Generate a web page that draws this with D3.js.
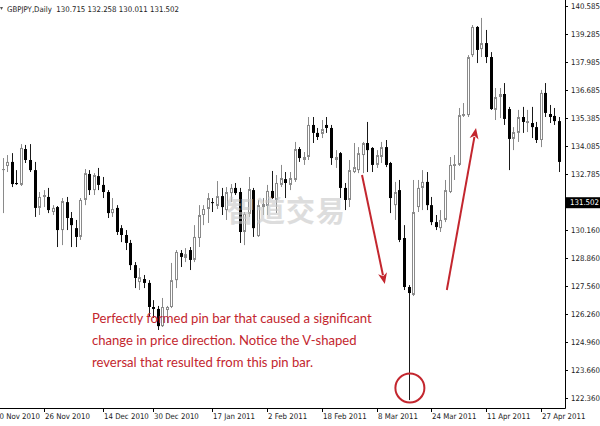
<!DOCTYPE html>
<html><head><meta charset="utf-8">
<script src="https://cdn.jsdelivr.net/npm/d3@7"></script>
<style>html,body{margin:0;padding:0;background:#fff;}svg{display:block;}</style>
</head><body>
<svg id="c" width="600" height="426"></svg>
<script>
// ---- data (GBPJPY daily) ----
const opens  = [132.95,133.14,133.33,132.35,132.26,133.93,133.42,132.95,131.19,131.70,131.70,131.00,131.23,130.16,131.46,130.72,130.25,129.84,131.56,132.77,132.02,132.67,132.26,131.93,130.95,131.19,130.25,129.93,129.56,128.53,127.74,127.88,127.70,126.58,126.49,125.69,126.44,126.58,127.83,129.09,128.86,129.23,128.77,129.79,130.86,131.14,131.46,131.28,131.74,131.09,131.88,132.12,131.93,130.07,130.91,132.02,129.88,131.23,131.28,131.98,131.56,132.26,132.53,132.26,132.49,133.93,133.42,133.56,135.05,134.68,134.63,135.05,134.91,133.42,133.74,132.12,131.56,132.86,132.95,133.65,134.21,133.98,133.19,133.56,134.02,133.28,131.32,132.02,129.79,127.51,127.14,131.23,132.12,132.40,131.32,130.53,130.25,130.63,131.93,133.14,133.19,135.47,135.51,138.30,139.61,138.58,138.86,138.21,135.75,136.35,136.49,135.79,134.40,134.68,135.42,135.14,135.14,134.95,134.35,136.54,135.56,135.47,135.23];
const highs  = [133.51,133.65,133.74,132.95,134.16,134.12,134.16,133.33,131.93,132.02,132.12,131.32,131.28,131.65,131.70,131.00,130.63,131.65,133.00,132.95,132.81,133.05,132.63,132.02,131.65,131.32,130.39,130.16,129.70,128.67,128.39,128.07,127.83,126.90,126.63,127.00,126.63,128.63,129.23,129.23,129.32,129.37,130.39,131.32,131.32,131.88,131.65,132.44,132.12,132.16,132.30,132.35,132.12,131.00,132.63,132.12,131.56,131.65,132.26,132.91,132.72,133.19,132.86,132.86,134.26,134.02,133.79,135.42,135.42,134.91,135.28,135.42,135.05,133.88,133.79,132.35,133.42,134.21,134.02,134.26,135.19,134.02,133.88,134.26,134.35,133.33,132.40,132.49,130.39,127.60,132.49,132.49,132.95,132.86,131.70,130.86,131.09,132.49,133.56,133.65,135.84,136.07,138.30,139.70,139.65,140.03,139.47,138.44,136.77,136.77,137.00,135.89,134.95,135.75,135.89,135.75,135.89,135.19,136.68,137.00,135.98,135.84,135.42];
const lows   = [130.95,132.86,132.16,132.26,132.21,133.28,132.86,130.77,130.86,131.23,130.95,130.86,129.37,129.46,130.16,129.37,129.37,129.70,131.32,131.79,131.79,132.02,131.65,130.72,130.77,129.93,129.60,129.23,128.30,127.46,127.37,127.46,126.11,126.07,125.51,125.65,125.83,126.53,127.46,128.44,128.67,128.30,128.67,129.37,130.39,130.49,131.00,131.14,130.86,130.63,131.46,131.79,129.56,129.46,130.77,129.84,129.84,130.86,130.86,131.60,130.95,132.16,131.65,132.02,132.40,133.33,133.19,133.42,134.21,134.35,134.44,134.68,133.19,133.05,131.65,131.09,131.23,132.81,132.81,132.81,132.86,132.86,133.05,133.28,133.09,130.95,130.63,129.60,127.37,122.25,127.09,131.00,131.09,131.09,130.39,130.16,130.07,130.53,131.88,132.49,133.14,135.42,135.42,138.21,137.93,138.21,137.93,135.75,135.28,135.37,135.05,132.95,133.88,134.26,134.68,134.72,134.44,134.21,134.02,135.42,135.14,135.05,132.86];
const closes = [133.00,133.33,132.30,132.30,133.98,133.42,132.95,131.19,131.70,131.79,131.09,131.19,130.16,131.51,130.72,130.39,129.84,131.56,132.81,132.02,132.72,132.26,131.93,130.95,131.14,130.07,129.93,129.56,128.53,127.93,127.97,127.70,126.58,126.49,125.69,126.58,126.58,127.83,129.14,128.91,129.04,128.77,129.84,130.86,131.14,131.65,131.42,131.74,131.23,131.93,132.12,131.88,130.07,130.91,132.07,130.25,131.32,131.37,131.98,131.65,132.35,132.58,132.35,132.58,133.93,133.51,133.56,135.05,134.68,134.49,134.86,134.91,133.51,133.56,132.12,131.56,132.95,133.09,133.74,134.21,133.88,133.19,133.65,134.02,133.19,131.65,131.93,129.70,127.51,127.23,131.00,132.12,132.40,131.32,130.53,130.30,130.63,132.02,133.19,133.23,135.51,135.56,138.21,139.61,138.54,138.86,138.21,135.79,136.35,136.49,135.33,134.40,134.72,135.42,135.19,135.23,134.95,134.35,136.54,135.61,135.42,135.23,133.33];

const dateTickIndex = [-2, 9, 22, 33, 46, 58, 70, 82, 94, 106, 118];
const dateTickLabels = ["10 Nov 2010","26 Nov 2010","14 Dec 2010","30 Dec 2010","17 Jan 2011","2 Feb 2011","18 Feb 2011","8 Mar 2011","24 Mar 2011","11 Apr 2011","27 Apr 2011"];
const priceTickLabels = ["140.585","139.285","137.985","136.685","135.385","134.085","132.785","130.160","128.860","127.560","126.260","124.960","123.660","122.360"];
const currentPrice = 131.502;
const headerText = "GBPJPY,Daily  130.715 132.258 130.011 131.502";
const noteLines = ["Perfectly formed pin bar that caused a significant","change in price direction. Notice the V-shaped","reversal that resulted from this pin bar."];
const watermark = "智道交易";
// annotation anchors in data space [bar index, price]
const arrowDown = [[78.8, 132.72],[83.8, 127.65]];
const arrowUp   = [[97.4, 127.37],[103.8, 134.91]];
const pinCircle = [89.3, 122.81];

// ---- layout ----
const W = 600, H = 426, plotR = 565, plotB = 408;
const svg = d3.select("#c");
const x = d3.scaleLinear().domain([0, 122]).range([2.7, 559]);
const y = d3.scaleLinear().domain([122.360, 140.585]).range([397.7, 6]);
const axisFont = "'DejaVu Sans Condensed','Liberation Sans',sans-serif";
const red = "#c3262e";

const plot = svg.append("g");
svg.append("defs").append("clipPath").attr("id","pc").append("rect")
  .attr("x",0).attr("y",0).attr("width",plotR).attr("height",plotB);
plot.attr("clip-path","url(#pc)");

const idx = d3.range(opens.length);
// wicks
plot.selectAll("line.w").data(idx).join("line")
  .attr("x1", i => Math.round(x(i)) + 0.5).attr("x2", i => Math.round(x(i)) + 0.5)
  .attr("y1", i => y(highs[i])).attr("y2", i => y(lows[i]))
  .attr("stroke", i => closes[i] >= opens[i] ? "#8a8a8a" : "#1a1a1a")
  .attr("stroke-width", 1);
// bear bodies
plot.selectAll("rect.bear").data(idx.filter(i => closes[i] < opens[i])).join("rect")
  .attr("x", i => Math.round(x(i)) - 1).attr("width", 3)
  .attr("y", i => y(opens[i])).attr("height", i => Math.max(1, y(closes[i]) - y(opens[i])))
  .attr("fill", "#000");
// bull bodies
plot.selectAll("rect.bull").data(idx.filter(i => closes[i] >= opens[i])).join("rect")
  .attr("x", i => Math.round(x(i)) - 0.5).attr("width", 2)
  .attr("y", i => y(closes[i]) + 0.5).attr("height", i => Math.max(0, y(opens[i]) - y(closes[i]) - 1))
  .attr("fill", "#fff").attr("stroke", "#8a8a8a").attr("stroke-width", 1);

// watermark
svg.append("text").attr("x", 226).attr("y", 222).text(watermark)
  .attr("font-family","'Noto Sans CJK SC',sans-serif").attr("font-weight","bold")
  .attr("font-size", 29).attr("fill", "#c8c8c8").attr("opacity", 0.6).attr("letter-spacing", 1);

// axes lines
svg.append("line").attr("x1", plotR + 0.5).attr("x2", plotR + 0.5).attr("y1", 0).attr("y2", plotB + 0.5)
  .attr("stroke", "#000").attr("stroke-width", 1);
svg.append("line").attr("x1", 0).attr("x2", plotR + 0.5).attr("y1", plotB + 0.5).attr("y2", plotB + 0.5)
  .attr("stroke", "#000").attr("stroke-width", 1);

// price ticks
const pt = svg.append("g");
priceTickLabels.forEach(l => {
  const v = +l, yy = Math.round(y(v)) + 0.5;
  pt.append("line").attr("x1", plotR).attr("x2", plotR + 3).attr("y1", yy).attr("y2", yy).attr("stroke", "#000");
  pt.append("text").attr("x", plotR + 6).attr("y", yy).attr("dy", "0.35em").text(l)
    .attr("font-family", axisFont).attr("font-size", 7.8).attr("fill", "#222");
});
// current price tag
const cy = y(currentPrice);
svg.append("rect").attr("x", plotR + 1).attr("y", cy - 4).attr("width", W - plotR - 1).attr("height", 11).attr("fill", "#000");
svg.append("text").attr("x", plotR + 5).attr("y", cy + 1.5).attr("dy", "0.35em").text(currentPrice.toFixed(3))
  .attr("font-family", axisFont).attr("font-size", 7.8).attr("fill", "#fff");

// date ticks
const dt = svg.append("g");
dateTickIndex.forEach((k, j) => {
  const xx = Math.round(x(k)) + 0.5;
  dt.append("line").attr("x1", xx).attr("x2", xx).attr("y1", plotB).attr("y2", plotB + 4).attr("stroke", "#000");
  dt.append("text").attr("x", xx + 0.5).attr("y", plotB + 11).text(dateTickLabels[j])
    .attr("font-family", axisFont).attr("font-size", 7.8).attr("fill", "#222");
});

// header
svg.append("text").attr("x", 7).attr("y", 12).text(headerText)
  .style("white-space","pre")
  .attr("font-family", axisFont).attr("font-size", 7.8).attr("fill", "#222");
svg.append("path").attr("d","M0,7 L3,7 L1.5,10 Z").attr("fill","#555");

// arrows
function arrow(a) {
  const x1 = x(a[0][0]), y1 = y(a[0][1]), x2 = x(a[1][0]), y2 = y(a[1][1]);
  const dx = x2 - x1, dy = y2 - y1, L = Math.hypot(dx, dy), ux = dx / L, uy = dy / L;
  const hl = 11, hw = 4.5;
  const bx = x2 - ux * hl, by = y2 - uy * hl;
  svg.append("line").attr("x1", x1).attr("y1", y1).attr("x2", bx + ux * 2).attr("y2", by + uy * 2)
    .attr("stroke", red).attr("stroke-width", 2);
  svg.append("path").attr("d", `M${x2},${y2} L${bx - uy * hw},${by + ux * hw} L${bx + ux*3},${by + uy*3} L${bx + uy * hw},${by - ux * hw} Z`)
    .attr("fill", red);
}
arrow(arrowDown); arrow(arrowUp);

// circle
svg.append("circle").attr("cx", x(pinCircle[0])).attr("cy", y(pinCircle[1])).attr("r", 14.5)
  .attr("fill", "none").attr("stroke", red).attr("stroke-width", 2);

// note text
const note = svg.append("g");
const t0 = note.append("text").attr("x", 92).attr("y", 323).text(noteLines[0])
  .attr("font-family", "Lato, 'Open Sans', sans-serif").attr("font-size", 14).attr("fill", red);
const w0 = t0.node().getComputedTextLength();
const fs = 14 * 280 / w0;
t0.attr("font-size", fs);
noteLines.slice(1).forEach((l, j) => {
  note.append("text").attr("x", 92).attr("y", 323 + (j + 1) * 22).text(l)
    .attr("font-family", "Lato, 'Open Sans', sans-serif").attr("font-size", fs).attr("fill", red);
});
</script>
</body></html>
